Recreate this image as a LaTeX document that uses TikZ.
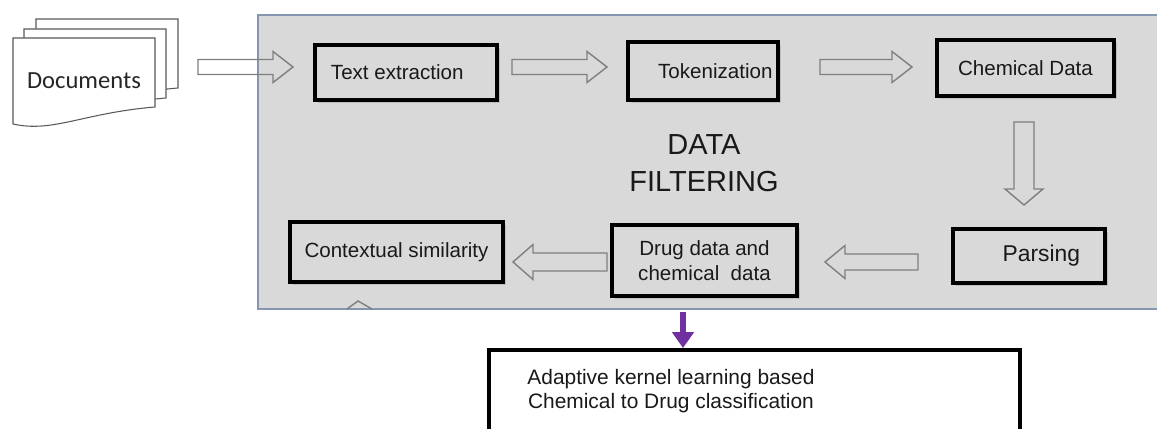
\documentclass[tikz,border=0pt]{standalone}
\usepackage{fontspec}
\setmainfont{Liberation Sans}
\newfontfamily\docfont{Carlito}
\usetikzlibrary{calc,arrows.meta,shadows}
\definecolor{panelfill}{HTML}{D9D9D9}
\definecolor{panelline}{HTML}{8496B0}
\definecolor{arrowgray}{HTML}{7F7F7F}
\definecolor{pagegray}{HTML}{595959}
\definecolor{violet}{HTML}{7030A0}
\newcommand{\hollowarrow}[5]{%
\coordinate (hb) at ($(#2)!#5!(#1)$);
\draw[blockarrow] ($(#1)!#3!90:(#2)$) -- ($(hb)!#3!90:(#2)$) -- ($(hb)!#4!90:(#2)$) -- (#2)
 -- ($(hb)!#4!-90:(#2)$) -- ($(hb)!#3!-90:(#2)$) -- ($(#1)!#3!-90:(#2)$) -- cycle;}
\begin{document}
\begin{tikzpicture}[x=0.02cm,y=-0.02cm,
box/.style={draw=black,line width=2.1pt,fill=panelfill,text=black!90,
 font=\fontsize{11.7}{14}\selectfont,align=center,inner sep=0pt,
 drop shadow={shadow xshift=1.5pt,shadow yshift=-1.5pt,opacity=0.3}},
blockarrow/.style={draw=arrowgray,line width=0.8pt,line join=miter},
page/.style={draw=pagegray,line width=0.6pt,fill=white},
bigtext/.style={font=\fontsize{16.5}{21}\selectfont,align=center,text=black!90}]
\useasboundingbox (0,0) rectangle (1157,429);
\clip (0,0) rectangle (1157,429);
% stacked documents
\foreach \dx/\dy in {23/-19,11/-9,0/0}
\draw[page,shift={(13+\dx,38+\dy)}] (0,0) -- (142,0) -- (142,69) .. controls (70,75) and (40,95) .. (0,86) -- cycle;
\node[font=\docfont\fontsize{14}{16}\selectfont,text=black!85] (docs) at (84,81) {Documents};
% filtering panel
\draw[fill=panelfill,draw=panelline,line width=0.8pt] (258,15) rectangle (1170,309);
\node[bigtext] (filt) at (704,163) {DATA\\FILTERING};
% boxes
\node[box,minimum width=3.64cm,minimum height=1.10cm] (textx) at (406,72.5) {Text extraction\hspace{10pt}};
\node[box,minimum width=3.00cm,minimum height=1.16cm] (token) at (703,71) {\hspace{14pt}Tokenization};
\node[box,minimum width=3.54cm,minimum height=1.12cm] (chem) at (1025.5,68) {Chemical Data};
\node[box,minimum width=3.04cm,minimum height=1.08cm,font=\fontsize{13}{15}\selectfont] (pars) at (1029,256) {\hspace{14pt}Parsing};
\node[box,minimum width=3.70cm,minimum height=1.42cm] (drug) at (704.5,260.5) {Drug data and\\chemical\ \ data};
\node[box,minimum width=4.26cm,minimum height=1.20cm] (ctx) at (396.5,252) {Contextual similarity};
\node[box,fill=white,minimum width=10.62cm,minimum height=3cm,anchor=north west] (akl) at (487,348) {};
\node[font=\fontsize{11.9}{13.2}\selectfont,align=center,text=black!90] (akltext) at (671,391)
 {Adaptive kernel learning based\\Chemical to Drug classification};
% hollow arrows
\coordinate (a1s) at (198,67); \coordinate (a1e) at (293,67);
\coordinate (a2s) at (512,67); \coordinate (a2e) at (607,67);
\coordinate (a3s) at (820,67); \coordinate (a3e) at (912,67);
\coordinate (a4s) at (1024,122); \coordinate (a4e) at (1024,205);
\coordinate (a5s) at (918,262); \coordinate (a5e) at (825,262);
\coordinate (a6s) at (607,262); \coordinate (a6e) at (513,262);
\hollowarrow{a1s}{a1e}{0.15cm}{0.31cm}{0.40cm}
\hollowarrow{a2s}{a2e}{0.15cm}{0.31cm}{0.40cm}
\hollowarrow{a3s}{a3e}{0.15cm}{0.31cm}{0.40cm}
\hollowarrow{a4s}{a4e}{0.20cm}{0.38cm}{0.32cm}
\hollowarrow{a5s}{a5e}{0.16cm}{0.33cm}{0.40cm}
\hollowarrow{a6s}{a6e}{0.18cm}{0.35cm}{0.40cm}
% stray arrow tip at panel edge
\draw[blockarrow] (347,309) -- (358,301) -- (372,309);
% to classification
\coordinate (pa) at (683,312);
\draw[violet,line width=3.4pt,-{Triangle[length=9pt,width=12pt]}] (pa) -- (pa |- akl.north);
\end{tikzpicture}
\end{document}
